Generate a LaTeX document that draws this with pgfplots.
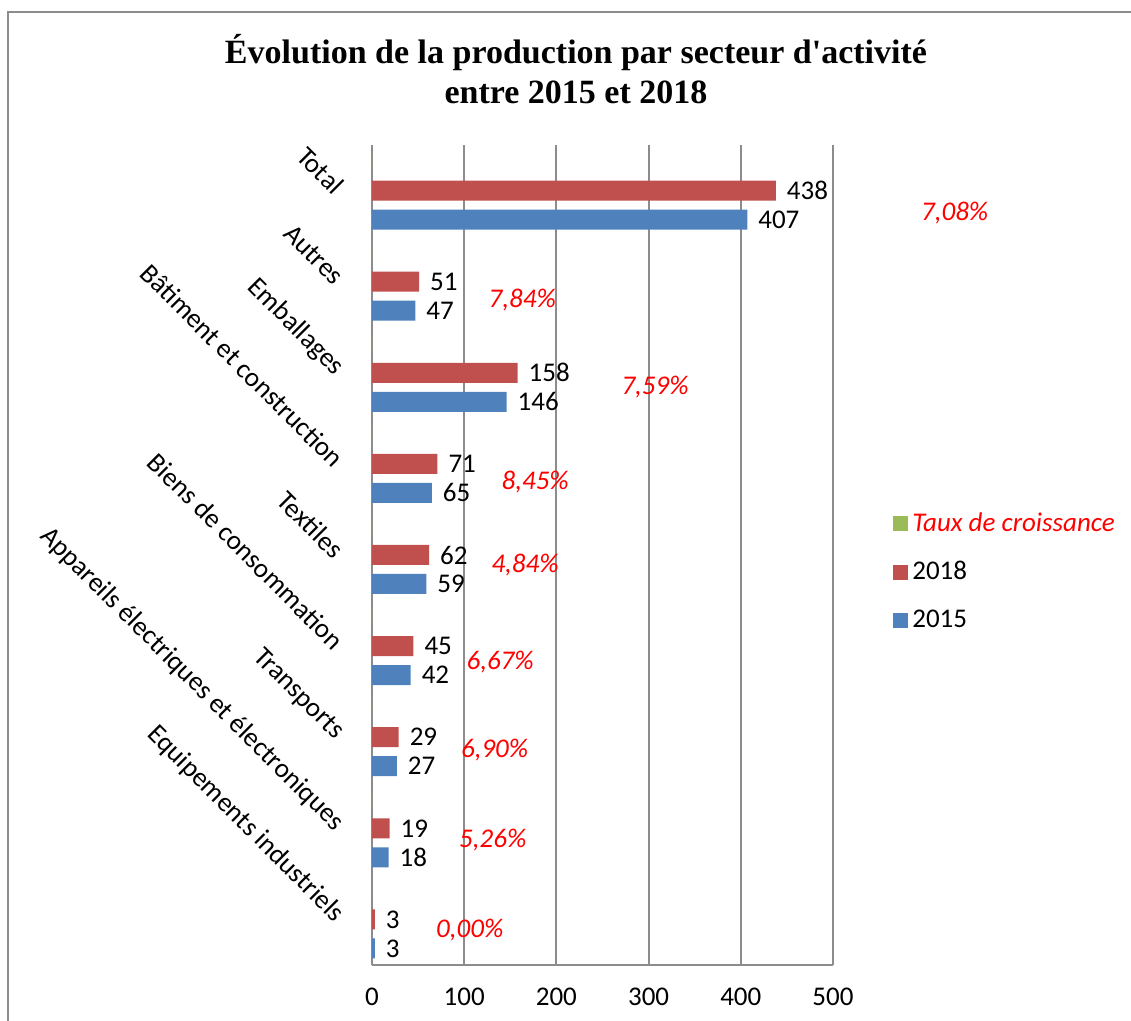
\documentclass[border=0pt]{standalone}
\usepackage{pgfplots}
\pgfplotsset{compat=1.18}
\usepackage{fontspec}
\setmainfont{Carlito}
\newfontfamily\titlefont{Liberation Serif}
\definecolor{cred}{HTML}{C0504D}
\definecolor{cblue}{HTML}{4F81BD}
\definecolor{cgreen}{HTML}{9BBB59}
\definecolor{cgrid}{HTML}{8C8C8C}
\begin{document}
\begin{tikzpicture}[x=1pt,y=1pt]
\path[use as bounding box] (0,0) rectangle (565.5,510.5);
\draw[cgrid, line width=1pt] (4,-2) -- (4,504.5) -- (570,504.5);
\node[font=\titlefont\bfseries\fontsize{17}{20}\selectfont, align=center] at (288,476)
  {Évolution de la production par secteur d'activité\\entre 2015 et 2018};
\begin{axis}[
  at={(186pt,28pt)}, anchor=south west,
  scale only axis, width=230.5pt, height=410pt,
  xbar, bar width=10pt,
  xmin=0, xmax=500, ymin=-0.5, ymax=8.5,
  xtick={0,100,...,500},
  ytick={0,...,8},
  yticklabels={Equipements industriels, Appareils électriques et électroniques, Transports, Biens de consommation, Textiles, Bâtiment et construction, Emballages, Autres, Total},
  yticklabel style={rotate=-45, anchor=east, xshift=-5.5pt, yshift=-8pt, font=\fontsize{13.6}{15}\selectfont},
  xticklabel style={font=\fontsize{13.5}{16}\selectfont, yshift=-8pt},
  /pgf/number format/assume math mode=true,
  axis x line*=bottom, axis y line*=left,
  axis line style={cgrid, line width=1pt},
  xmajorgrids, major grid style={cgrid, line width=1pt},
  tick style={draw=none},
  clip=false,
  legend style={draw=none, fill=none, at={(1.13,0.557)}, anchor=north west,
    font=\fontsize{13.5}{16}\selectfont, row sep=9.5pt, inner sep=0pt,
    /tikz/every even column/.append style={column sep=3pt}},
  legend cell align=left,
  reverse legend,
  every node near coord/.append style={font=\fontsize{13.5}{16}\selectfont, text=black, xshift=2pt},
]
\addplot+[draw=none, fill=cblue, bar shift=-14.5pt, nodes near coords,
  area legend, legend image code/.code={\fill[cblue] (0pt,-3.75pt) rectangle (7.5pt,3.75pt);}]
  coordinates {(3,0) (18,1) (27,2) (42,3) (59,4) (65,5) (146,6) (47,7) (407,8)};
\addlegendentry{2015}
\addplot+[draw=none, fill=cred, bar shift=0pt, nodes near coords,
  area legend, legend image code/.code={\fill[cred] (0pt,-3.75pt) rectangle (7.5pt,3.75pt);}]
  coordinates {(3,0) (19,1) (29,2) (45,3) (62,4) (71,5) (158,6) (51,7) (438,8)};
\addlegendentry{2018}
\addplot+[draw=none, fill=cgreen, bar shift=14.5pt,
  area legend, legend image code/.code={\fill[cgreen] (0pt,-3.75pt) rectangle (7.5pt,3.75pt);}]
  coordinates {(0.0000,0) (0.0526,1) (0.0690,2) (0.0667,3) (0.0484,4) (0.0845,5) (0.0759,6) (0.0784,7) (0.0708,8)};
\addlegendentry{\textcolor{red}{\itshape Taux de croissance}}
\begin{scope}[every node/.style={font=\itshape\fontsize{13.5}{16}\selectfont, text=red}]
\node at (axis cs:632,7.755) {7,08\%};
\node at (axis cs:163,6.80) {7,84\%};
\node at (axis cs:307,5.845) {7,59\%};
\node at (axis cs:177,4.80) {8,45\%};
\node at (axis cs:166,3.89) {4,84\%};
\node at (axis cs:139,2.83) {6,67\%};
\node at (axis cs:133,1.86) {6,90\%};
\node at (axis cs:131,0.87) {5,26\%};
\node at (axis cs:106,-0.116) {0,00\%};
\end{scope}
\end{axis}
\end{tikzpicture}
\end{document}
